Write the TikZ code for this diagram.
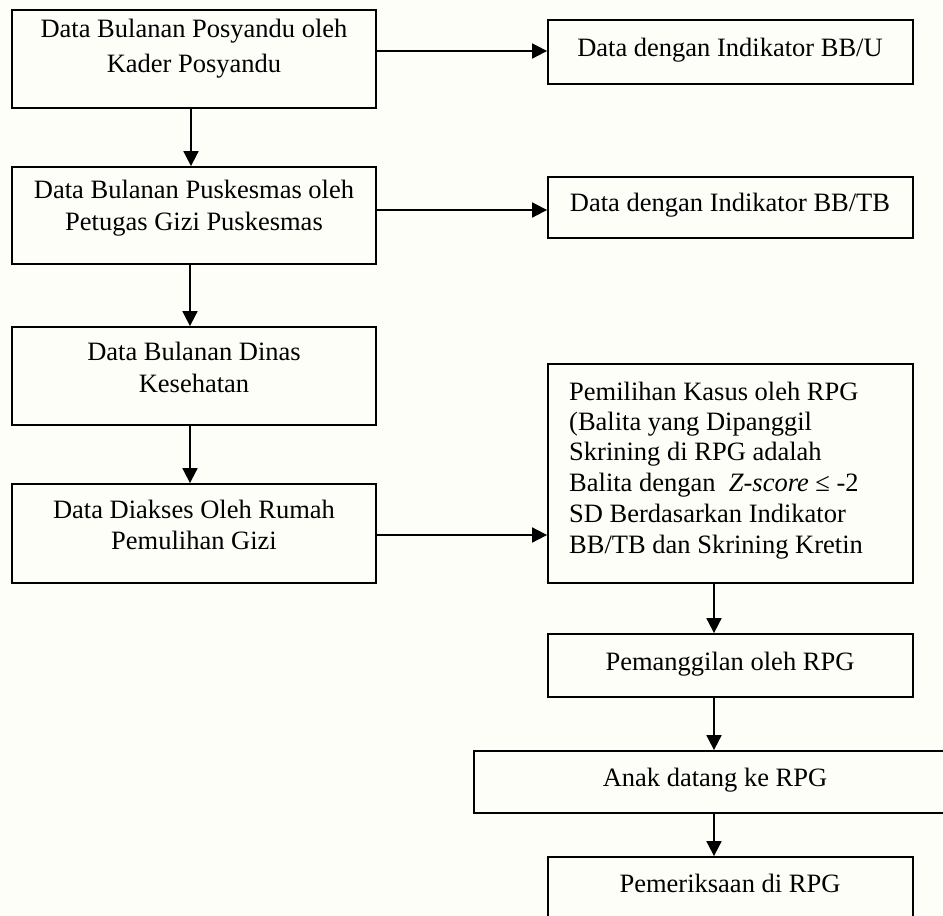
\documentclass[tikz,border=0pt]{standalone}
\usepackage{fontspec}
\setmainfont{Liberation Serif}
\usetikzlibrary{arrows.meta}
\definecolor{bgc}{RGB}{254,254,249}
\begin{document}
\begin{tikzpicture}[x=1pt,y=-1pt,
  box/.style={draw, line width=1.8pt, rectangle, inner sep=0pt},
  txt/.style={font=\fontsize{26.5}{30}\selectfont, inner sep=0pt, anchor=base},
  ltxt/.style={txt, anchor=base west},
  arr/.style={line width=1.8pt, -{Triangle[width=15pt,length=15pt]}}]
\useasboundingbox (0,0) rectangle (943,916);
\fill[bgc] (0,0) rectangle (943,916);
\clip (0,0) rectangle (943,916);
% left column
\node[box, minimum width=364pt, minimum height=98pt] (b1) at (194,59) {};
\node[txt] (t1a) at (194,37) {Data Bulanan Posyandu oleh};
\node[txt] (t1b) at (194,72) {Kader Posyandu};
\node[box, minimum width=364pt, minimum height=97pt] (b2) at (194,215.5) {};
\node[txt] (t2a) at (194,198) {Data Bulanan Puskesmas oleh};
\node[txt] (t2b) at (194,230) {Petugas Gizi Puskesmas};
\node[box, minimum width=364pt, minimum height=98pt] (b3) at (194,376) {};
\node[txt] (t3a) at (194,360) {Data Bulanan Dinas};
\node[txt] (t3b) at (194,392) {Kesehatan};
\node[box, minimum width=364pt, minimum height=99pt] (b4) at (194,533.5) {};
\node[txt] (t4a) at (194,518) {Data Diakses Oleh Rumah};
\node[txt] (t4b) at (194,549) {Pemulihan Gizi};
% right column
\node[box, minimum width=365pt, minimum height=64pt] (r1) at (730.5,52) {};
\node[txt] (s1) at (730,56) {Data dengan Indikator BB/U};
\node[box, minimum width=365pt, minimum height=61pt] (r2) at (730.5,207.5) {};
\node[txt] (s2) at (730,211) {Data dengan Indikator BB/TB};
\node[box, minimum width=365pt, minimum height=219pt] (p1) at (730.5,473.5) {};
\node[ltxt] (q1) at (569,400) {Pemilihan Kasus oleh RPG};
\node[ltxt] (q2) at (569,430) {(Balita yang Dipanggil};
\node[ltxt] (q3) at (569,460) {Skrining di RPG adalah};
\node[ltxt] (q4) at (569,491) {Balita dengan \ \textit{Z-score} ≤ -2};
\node[ltxt] (q5) at (569,522) {SD Berdasarkan Indikator};
\node[ltxt] (q6) at (569,553) {BB/TB dan Skrining Kretin};
\node[box, minimum width=365pt, minimum height=63pt] (p2) at (730.5,665.5) {};
\node[txt] (u2) at (730,670) {Pemanggilan oleh RPG};
\node[box, minimum width=500pt, minimum height=62pt] (p3) at (724,782) {};
\node[txt] (u3) at (715,786) {Anak datang ke RPG};
\node[box, minimum width=365pt, minimum height=100pt] (p4) at (730.5,907) {};
\node[txt] (u4) at (730,892) {Pemeriksaan di RPG};
% connectors
\draw[arr] ([yshift=8pt]b1.east) -- ([yshift=8pt]b1.east -| r1.west);
\draw[arr] ([yshift=5.5pt]b2.east) -- ([yshift=5.5pt]b2.east -| r2.west);
\draw[arr] ([yshift=-1.5pt]b4.east) -- ([yshift=-1.5pt]b4.east -| p1.west);
\draw[arr] ([xshift=-3pt]b1.south) -- ([xshift=-3pt]b2.north);
\draw[arr] ([xshift=-4pt]b2.south) -- ([xshift=-4pt]b3.north);
\draw[arr] ([xshift=-4pt]b3.south) -- ([xshift=-4pt]b4.north);
\draw[arr] ([xshift=-16.5pt]p1.south) -- ([xshift=-16.5pt]p2.north);
\draw[arr] ([xshift=-16.5pt]p2.south) -- ([xshift=-16.5pt]p2.south |- p3.north);
\draw[arr] ([xshift=-16.5pt]p2.south |- p3.south) -- ([xshift=-16.5pt]p4.north);
\end{tikzpicture}
\end{document}
